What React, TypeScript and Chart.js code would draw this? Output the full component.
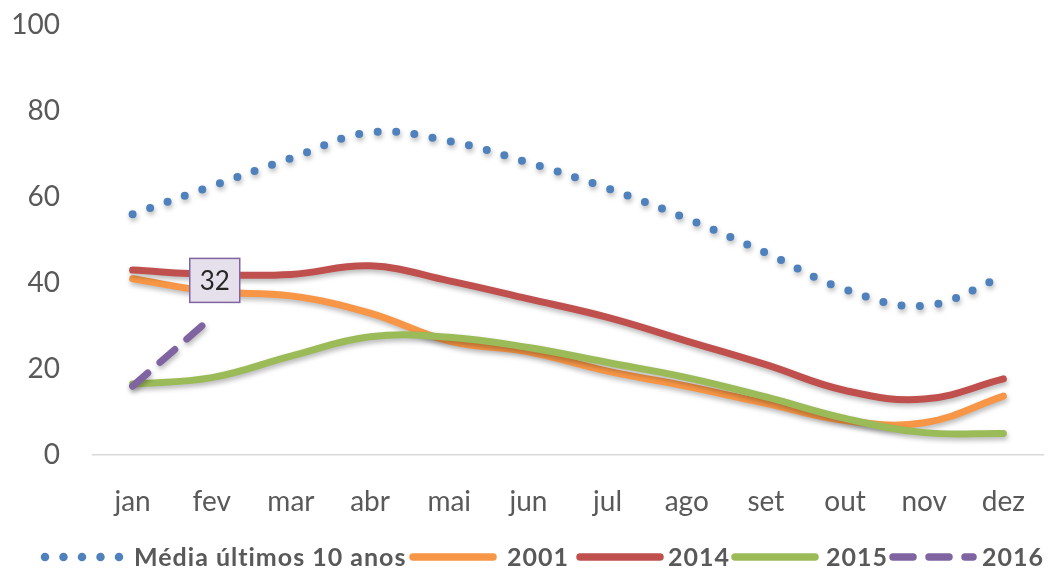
import React, { useEffect, useRef } from "react";
import { Chart, registerables } from "chart.js";

Chart.register(...registerables);

const months = ["jan", "fev", "mar", "abr", "mai", "jun", "jul", "ago", "set", "out", "nov", "dez"];
const media10 = [56, 62.5, 69, 75, 73, 68, 62, 55, 47, 38.5, 34.7, 41.5];
const s2001 = [41, 38, 37, 33, 26.5, 24, 19.5, 16, 12, 8, 7.5, 13.7];
const s2014 = [43, 42, 42, 44, 40.5, 36.3, 32, 26.5, 21, 15, 13, 17.7];
const s2015 = [16.5, 18, 23, 27.5, 27.4, 25, 21.5, 18, 13.5, 8.5, 5.2, 5];
const s2016 = [16, 32, null, null, null, null, null, null, null, null, null, null];
const yTicks = [0, 20, 40, 60, 80, 100];
const seriesNames = ["Média últimos 10 anos", "2001", "2014", "2015", "2016"];
const colors = ["#4f81bd", "#f79646", "#c0504d", "#9bbb59", "#8064a2"];
const dashes = [[0, 18.5], [], [], [], [20, 16]];
const widths = [8, 7, 7, 7, 7];
const labelIndex = 1;

const legendMarkerX = [45, 413, 580, 735, 893];
const legendTextX = [134, 507, 668, 826, 982];

const shadowPlugin = {
  id: "shadow",
  beforeDatasetDraw(chart: any) {
    const ctx = chart.ctx;
    ctx.save();
    ctx.shadowColor = "rgba(0,0,0,0.28)";
    ctx.shadowBlur = 5;
    ctx.shadowOffsetX = 1;
    ctx.shadowOffsetY = 3;
  },
  afterDatasetDraw(chart: any) {
    chart.ctx.restore();
  },
};

const annotPlugin = {
  id: "annot",
  afterDatasetsDraw(chart: any) {
    const ctx = chart.ctx;
    const meta = chart.getDatasetMeta(4);
    const pt = meta.data[labelIndex];
    if (!pt) return;
    const v = s2016[labelIndex];
    const cx = pt.x + 3;
    const cy = chart.scales.y.getPixelForValue(v as number) - 37;
    const w = 50, h = 44;
    ctx.save();
    ctx.fillStyle = "#e6e0ec";
    ctx.strokeStyle = "#8064a2";
    ctx.lineWidth = 1.5;
    ctx.fillRect(cx - w / 2, cy - h / 2, w, h);
    ctx.strokeRect(cx - w / 2, cy - h / 2, w, h);
    ctx.fillStyle = "#262626";
    ctx.font = "26px Lato";
    ctx.textAlign = "center";
    ctx.textBaseline = "middle";
    ctx.fillText(String(v), cx, cy + 1);
    ctx.restore();
  },
};

const legendPlugin = {
  id: "customLegend",
  afterDraw(chart: any) {
    const ctx = chart.ctx;
    const y = 557;
    ctx.save();
    ctx.font = "bold 25px Lato";
    ctx.textBaseline = "middle";
    ctx.textAlign = "left";
    try {
      (ctx as any).letterSpacing = "1px";
    } catch (e) {}
    seriesNames.forEach((name, i) => {
      const x = legendMarkerX[i];
      ctx.save();
      ctx.strokeStyle = colors[i];
      ctx.lineWidth = widths[i] + 0.5;
      ctx.lineCap = "round";
      ctx.setLineDash(dashes[i]);
      ctx.beginPath();
      ctx.moveTo(x, y);
      ctx.lineTo(i === 0 ? x + 77 : x + 80, y);
      ctx.stroke();
      ctx.restore();
      ctx.fillStyle = "#595959";
      ctx.fillText(name, legendTextX[i], y + 1);
    });
    ctx.restore();
  },
};

export default function App() {
  const ref = useRef<HTMLCanvasElement | null>(null);
  useEffect(() => {
    if (!ref.current) return;
    const data = [media10, s2001, s2014, s2015, s2016];
    const chart = new Chart(ref.current, {
      type: "line",
      data: {
        labels: months,
        datasets: data.map((d, i) => ({
          label: seriesNames[i],
          data: d,
          borderColor: colors[i],
          backgroundColor: colors[i],
          borderWidth: widths[i],
          borderDash: dashes[i],
          borderCapStyle: "round",
          borderJoinStyle: "round",
          pointRadius: 0,
          tension: 0.4,
          fill: false,
          spanGaps: false,
          order: 4 - i,
        })) as any,
      },
      options: {
        animation: false,
        responsive: false,
        maintainAspectRatio: false,
        layout: { padding: { top: 0, right: 14, left: 0, bottom: 0 } },
        plugins: {
          legend: { display: false },
          tooltip: { enabled: false },
        },
        scales: {
          x: {
            offset: true,
            grid: { display: false, drawTicks: false },
            border: { display: true, color: "#d9d9d9", width: 1.5 },
            ticks: {
              color: "#595959",
              font: { family: "Lato", size: 28 },
              padding: 30,
              maxRotation: 0,
            },
            afterFit(scale: any) {
              scale.height = 113;
            },
          },
          y: {
            min: 0,
            max: 100,
            grid: { display: false, drawTicks: false },
            border: { display: false },
            afterBuildTicks(scale: any) {
              scale.ticks = yTicks.map((v) => ({ value: v }));
            },
            ticks: {
              color: "#595959",
              font: { family: "Lato", size: 28 },
              padding: 33,
            },
            afterFit(scale: any) {
              scale.width = 93;
              scale.paddingTop = 25;
              scale.paddingBottom = 0;
            },
          },
        },
      },
      plugins: [shadowPlugin, annotPlugin, legendPlugin],
    });
    return () => chart.destroy();
  }, []);
  return (
    <div style={{ position: "fixed", left: 0, top: 0, width: 1057, height: 568, background: "#fff" }}>
      <canvas ref={ref} width={1057} height={568} style={{ display: "block" }} />
    </div>
  );
}
